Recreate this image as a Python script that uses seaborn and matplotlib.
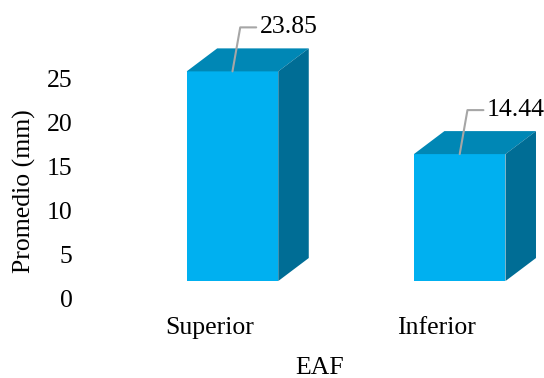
import matplotlib
matplotlib.use('Agg')
import matplotlib.pyplot as plt
import matplotlib.transforms as mtransforms
from matplotlib.patches import Polygon
import seaborn as sns

# data
categories = ['Superior', 'Inferior']
promedio = [23.85, 14.44]
value_labels = ['23.85', '14.44']
yticks = [0, 5, 10, 15, 20, 25]

sns.set_style('white')
plt.rcParams['font.family'] = ['Liberation Serif', 'DejaVu Serif']
plt.rcParams['text.color'] = 'black'
plt.rcParams['xtick.color'] = 'black'
plt.rcParams['ytick.color'] = 'black'
plt.rcParams['axes.labelcolor'] = 'black'

front_col = '#00b0f0'
top_col = '#0087b5'
side_col = '#006d95'
fsize = 18.5

fig = plt.figure(figsize=(5.44, 3.78), dpi=100)
# axes placed in pixels so the fake 3d fits
ax = fig.add_axes([80 / 544, 78 / 378, 464 / 544, 300 / 378])

floor = 1.93  # excel 3d floor sits a bit above zero
sns.barplot(x=categories, y=promedio, color=front_col, saturation=1,
            width=0.403, bottom=floor, ax=ax, linewidth=0)

ax.set_xlim(-0.671, 1.371)
ax.set_ylim(-0.2275, 33.9)

# depth of the boxes (30 px right, 23 px up) in data units
ddx = 30.5 / 227.2
ddy = 23 / 8.79

for p in ax.patches:
    x0 = p.get_x()
    x1 = x0 + p.get_width()
    y0 = p.get_y()
    y1 = y0 + p.get_height()
    top = Polygon([(x0, y1), (x1, y1), (x1 + ddx, y1 + ddy), (x0 + ddx, y1 + ddy)],
                  closed=True, facecolor=top_col, edgecolor='none', clip_on=False)
    side = Polygon([(x1, y0), (x1 + ddx, y0 + ddy), (x1 + ddx, y1 + ddy), (x1, y1)],
                   closed=True, facecolor=side_col, edgecolor='none', clip_on=False)
    ax.add_patch(top)
    ax.add_patch(side)

# data labels with the grey leader line
px = 72 / fig.dpi
for p, lab in zip(ax.patches[:len(promedio)], value_labels):
    xc = p.get_x() + p.get_width() / 2
    ytop = p.get_y() + p.get_height()
    ax.annotate(lab, xy=(xc, ytop), xycoords='data',
                xytext=(27 * px, 44 * px), textcoords='offset points',
                ha='left', va='center', fontsize=fsize, color='black',
                arrowprops=dict(arrowstyle='-', color='#a6a6a6', lw=1.5,
                                shrinkA=0, shrinkB=0,
                                connectionstyle='angle,angleA=0,angleB=80,rad=0',
                                relpos=(0, 0.5)))

ax.set_yticks(yticks)
ax.set_yticklabels([str(t) for t in yticks])
ax.tick_params(axis='y', length=0, pad=5.3, labelsize=fsize)
ax.tick_params(axis='x', length=0, pad=12, labelsize=fsize)

# excel draws the category names a bit left of the front faces
shift = mtransforms.ScaledTranslation(-23 / fig.dpi, 0, fig.dpi_scale_trans)
for t in ax.get_xticklabels():
    t.set_transform(t.get_transform() + shift)

ax.set_xlabel('EAF', fontsize=fsize)
ax.set_ylabel('Promedio (mm)', fontsize=fsize)
ax.xaxis.set_label_coords(0.517, -0.19)
ax.yaxis.set_label_coords(-0.095, 0.363)

sns.despine(ax=ax, left=True, bottom=True)

fig.savefig('out.png', dpi=100)
